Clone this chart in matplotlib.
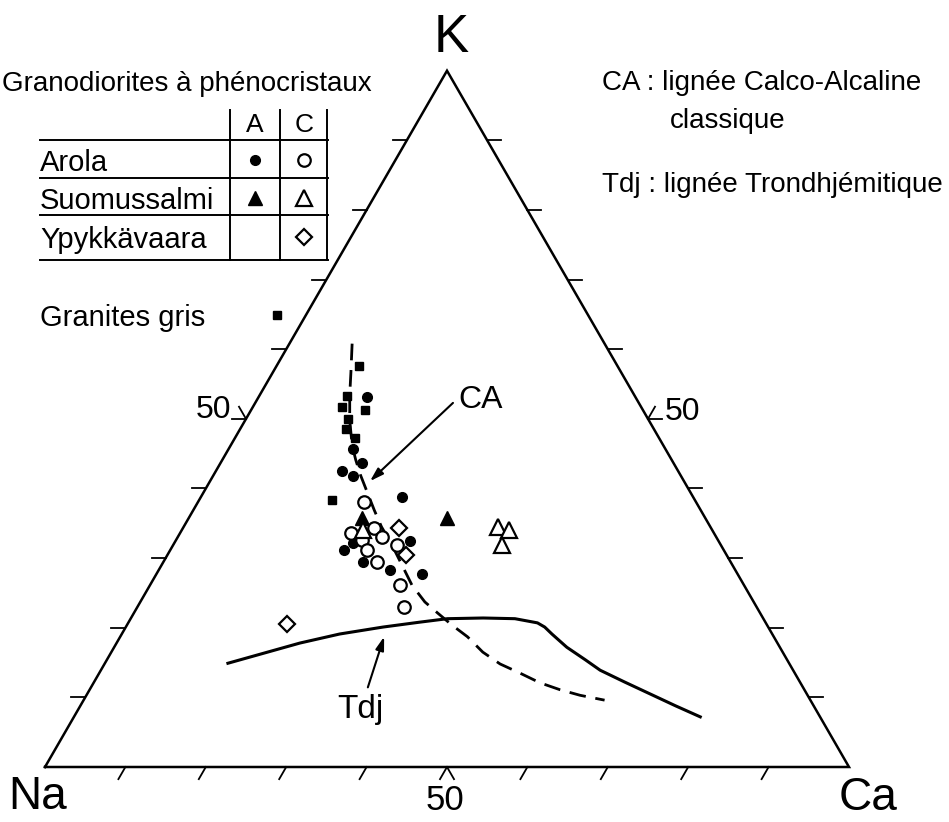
import numpy as np
import matplotlib
matplotlib.use('Agg')
import matplotlib.pyplot as plt

plt.rcParams['font.family'] = ['Liberation Sans', 'DejaVu Sans']

# compositions in % : (K, Ca), Na = 100 - K - Ca
granites_K = [57.6, 53.3, 51.7, 51.3, 50.0, 48.5, 47.3, 38.4]
granites_Ca = [10.2, 10.9, 11.1, 14.2, 12.7, 13.2, 14.9, 16.5]

arola_A_K = [53.1, 45.7, 43.7, 42.5, 41.8, 38.8, 32.2, 31.1, 29.4, 28.3, 32.4, 27.7]
arola_A_Ca = [13.5, 15.5, 17.6, 15.7, 17.4, 25.0, 22.2, 21.6, 24.9, 28.7, 29.2, 33.0]
arola_C_K = [38.0, 33.6, 32.6, 34.3, 33.1, 31.2, 29.5, 31.9, 26.1, 23.0]
arola_C_Ca = [20.7, 21.2, 23.1, 23.8, 25.4, 24.4, 26.5, 27.8, 31.1, 33.1]

suomu_A_K = [35.8, 35.8]
suomu_A_Ca = [21.5, 32.1]
suomu_C_K = [34.0, 34.5, 34.1, 31.9]
suomu_C_Ca = [22.5, 39.1, 40.6, 40.9]

ypyk_C_K = [34.3, 30.5, 20.6]
ypyk_C_Ca = [26.9, 29.6, 19.8]

# lignee calco-alcaline (CA) et trondhjemitique (Tdj)
ca_K = [60.8, 56.7, 53.4, 49.8, 46.2, 44.1, 41.9, 39.4, 36.9, 34.5, 31.9, 29.0,
        26.1, 23.7, 22.1, 20.4, 18.7, 16.5, 14.8, 13.5, 12.1, 11.1, 10.3, 9.6]
ca_Ca = [7.8, 9.7, 11.2, 13.0, 15.1, 16.6, 18.3, 20.4, 22.5, 24.6, 27.2, 29.9,
         32.6, 35.4, 37.8, 40.4, 43.2, 46.2, 49.2, 52.3, 55.5, 58.5, 61.4, 64.8]
tdj_K = [14.9, 17.8, 19.1, 20.1, 20.8, 21.3, 21.4, 21.3, 20.7, 20.1, 19.1, 17.2,
         15.4, 13.9, 12.2, 10.5, 8.8, 7.2]
tdj_Ca = [15.3, 22.8, 27.1, 32.0, 36.2, 39.4, 43.8, 47.8, 50.9, 52.1, 53.5, 56.3,
          59.5, 62.1, 66.0, 70.0, 74.0, 77.9]

tick_vals = [10, 20, 30, 40, 50, 60, 70, 80, 90]

H = np.sqrt(3) / 2


def tern(K, Ca):
    K = np.asarray(K) / 100.0
    Ca = np.asarray(Ca) / 100.0
    return Ca + K / 2, K * H


def P(px, py):
    # pixel position of the figure -> data coords
    return (px - 45) / 804.0, (767 - py) / 804.0


fig = plt.figure(figsize=(9.49, 8.22), dpi=100)
ax = fig.add_axes([0, 0, 1, 1])
ax.set_xlim(-45 / 804.0, 904 / 804.0)
ax.set_ylim(-55 / 804.0, 767 / 804.0)
ax.axis('off')

# triangle
ax.plot([0, 1, 0.5, 0], [0, 0, H, 0], color='k', lw=1.8, solid_joinstyle='miter')

# ticks
L = 14 / 804.0
for v in tick_vals:
    f = v / 100.0
    # base
    ax.plot([f, f - 0.5 * L], [0, -H * L], color='k', lw=1.3)
    # left side
    xl, yl = f / 2, f * H
    ax.plot([xl, xl - L], [yl, yl], color='k', lw=1.3)
    # right side
    xr, yr = 1 - f / 2, f * H
    ax.plot([xr, xr + L], [yr, yr], color='k', lw=1.3)
    if v == 50:
        ax.plot([f, f + 0.5 * L], [0, -H * L], color='k', lw=1.3)
        ax.plot([xl, xl - 0.5 * L], [yl, yl + H * L], color='k', lw=1.3)
        ax.plot([xr, xr + 0.5 * L], [yr, yr + H * L], color='k', lw=1.3)

# curves
x, y = tern(ca_K, ca_Ca)
ax.plot(x, y, color='k', lw=2, dashes=(6, 3.5), zorder=2)
x, y = tern(tdj_K, tdj_Ca)
ax.plot(x, y, color='k', lw=2.2, zorder=2)

# points
x, y = tern(granites_K, granites_Ca)
ax.plot(x, y, 's', color='k', ms=6, zorder=3)
x, y = tern(arola_A_K, arola_A_Ca)
ax.plot(x, y, 'o', color='k', ms=7, zorder=3)
x, y = tern(suomu_A_K, suomu_A_Ca)
ax.plot(x, y, '^', color='k', ms=10, zorder=3)
x, y = tern(arola_C_K, arola_C_Ca)
ax.plot(x, y, 'o', mfc='white', mec='k', mew=1.6, ms=9, zorder=4)
x, y = tern(suomu_C_K, suomu_C_Ca)
ax.plot(x, y, '^', mfc='white', mec='k', mew=1.6, ms=11, zorder=4)
x, y = tern(ypyk_C_K, ypyk_C_Ca)
ax.plot(x, y, 'D', mfc='white', mec='k', mew=1.6, ms=8, zorder=4)

# vertex labels and 50 labels
ax.text(*P(451, 52), 'K', fontsize=38, ha='center', va='baseline')
ax.text(*P(38, 809), 'Na', fontsize=33, ha='center', va='baseline')
ax.text(*P(868, 810), 'Ca', fontsize=33, ha='center', va='baseline')
ax.text(*P(445, 810), '50', fontsize=25, ha='center', va='baseline')
ax.text(*P(231, 418), '50', fontsize=23, ha='right', va='baseline')
ax.text(*P(665, 420), '50', fontsize=23, ha='left', va='baseline')

# line labels with arrows
ax.text(*P(458, 408), 'CA', fontsize=23, ha='left', va='baseline')
ax.annotate('', xy=P(368, 483), xytext=P(455, 401),
            arrowprops=dict(arrowstyle='-|>,head_length=0.8,head_width=0.25',
                            color='k', lw=1.5))
ax.text(*P(337, 718), 'Tdj', fontsize=24, ha='left', va='baseline')
ax.annotate('', xy=P(385, 634), xytext=P(367, 690),
            arrowprops=dict(arrowstyle='-|>,head_length=0.8,head_width=0.25',
                            color='k', lw=1.5))

# legend table
fs = 21
ax.text(*P(2, 91), 'Granodiorites à phénocristaux', fontsize=20, va='baseline')
ax.text(*P(255, 132), 'A', fontsize=19, ha='center', va='baseline')
ax.text(*P(304, 132), 'C', fontsize=19, ha='center', va='baseline')
for yy in [140, 178, 215, 260]:
    ax.plot(*zip(P(40, yy), P(328, yy)), color='k', lw=1.4)
for xx in [230, 280, 327]:
    ax.plot(*zip(P(xx, 110), P(xx, 260)), color='k', lw=1.4)
ax.text(*P(40, 171), 'Arola', fontsize=fs, va='baseline')
ax.text(*P(40, 209), 'Suomussalmi', fontsize=fs, va='baseline')
ax.text(*P(40, 248), 'Ypykkävaara', fontsize=fs, va='baseline')
ax.plot(*P(255, 160), 'o', color='k', ms=7)
ax.plot(*P(304, 160), 'o', mfc='white', mec='k', mew=1.6, ms=9)
ax.plot(*P(255, 198), '^', color='k', ms=10)
ax.plot(*P(304, 198), '^', mfc='white', mec='k', mew=1.6, ms=11)
ax.plot(*P(304, 237), 'D', mfc='white', mec='k', mew=1.6, ms=8)
ax.text(*P(40, 326), 'Granites gris', fontsize=fs, va='baseline')
ax.plot(*P(277, 315), 's', color='k', ms=6)

# right legend
ax.text(*P(602, 90), 'CA : lignée Calco-Alcaline', fontsize=20, va='baseline')
ax.text(*P(670, 128), 'classique', fontsize=20, va='baseline')
ax.text(*P(602, 192), 'Tdj : lignée Trondhjémitique', fontsize=20, va='baseline')

fig.savefig('out.png', dpi=100)
